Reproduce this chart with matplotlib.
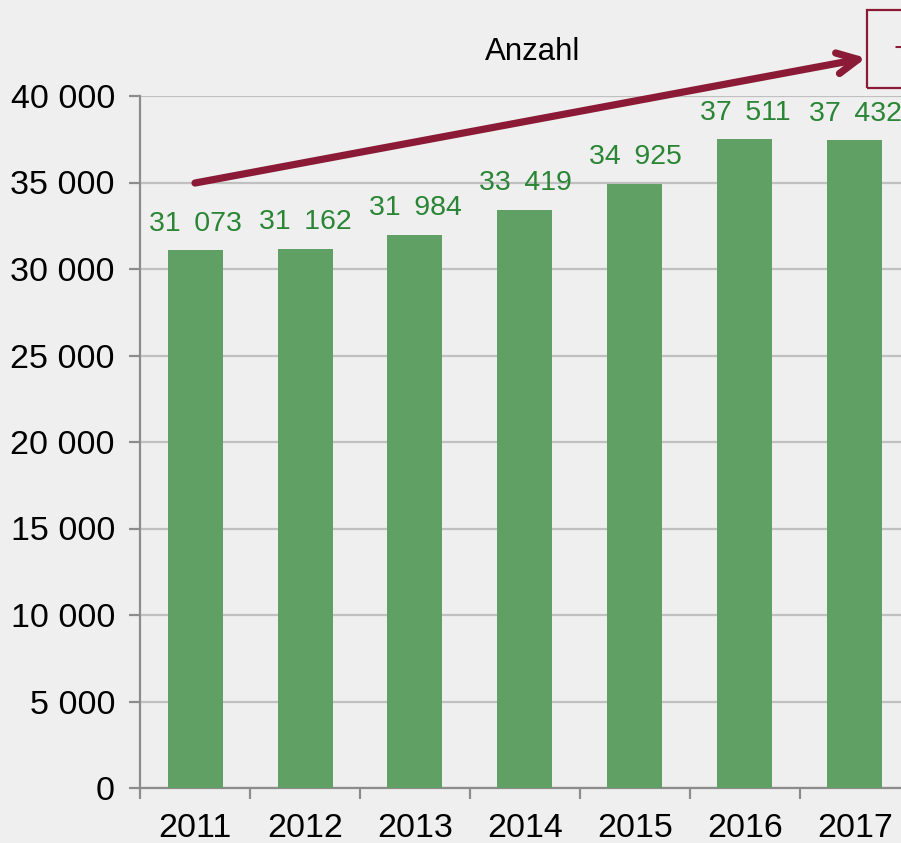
import numpy as np
import matplotlib.pyplot as plt
from matplotlib.patches import Rectangle

plt.rcParams['font.family'] = ['Liberation Sans', 'DejaVu Sans']

years = ['2011', '2012', '2013', '2014', '2015', '2016', '2017']
anzahl = [31073, 31162, 31984, 33419, 34925, 37511, 37432]

bg = '#eeefee'
bar_col = '#60a065'
lab_col = '#2a8535'
arrow_col = '#8b1a36'

fig = plt.figure(figsize=(9.01, 8.43), dpi=100, facecolor=bg)
ax = fig.add_axes([140 / 901, 1 - 788 / 843, 770 / 901, (788 - 96) / 843])
ax.set_facecolor(bg)

x = np.arange(len(years))
ax.bar(x, anzahl, width=0.5, color=bar_col, zorder=3)

for xi, v in zip(x, anzahl):
    s = f'{v:,}'.replace(',', ' \u2009')
    ax.text(xi, v + 780, s, ha='center', va='bottom', color=lab_col, fontsize=20.5)

ax.set_xlim(-0.5, len(years) - 0.5)
ax.set_ylim(0, 40000)
ax.set_yticks(np.arange(0, 40001, 5000))
ax.set_yticklabels([f'{t:,}'.replace(',', ' ') for t in range(0, 40001, 5000)], fontsize=24.5)
ax.yaxis.grid(True, color='#c0c0c0', lw=1.6, zorder=0)

ax.set_xticks(x)
ax.set_xticklabels(years, fontsize=24.5)
ax.set_xticks(np.arange(-0.5, len(years)), minor=True)
ax.tick_params(axis='x', which='major', length=0, pad=18)
ax.tick_params(axis='x', which='minor', length=8, width=1.6, color='#8c8c8c')
ax.tick_params(axis='y', length=8, width=1.6, color='#8c8c8c', pad=10)

for side in ['top', 'right']:
    ax.spines[side].set_visible(False)
for side in ['left', 'bottom']:
    ax.spines[side].set_color('#8c8c8c')
    ax.spines[side].set_linewidth(1.6)

# trend arrow and growth box
ax.annotate('', xy=(6.1, 42200), xytext=(0.0, 34970), xycoords='data',
            annotation_clip=False,
            arrowprops=dict(arrowstyle='->,head_length=1.5,head_width=0.75',
                            color=arrow_col, lw=5.2, capstyle='round',
                            joinstyle='round', shrinkA=0, shrinkB=0))

fig.patches.append(Rectangle((867 / 901, 1 - 88 / 843), 0.2, 78 / 843,
                             transform=fig.transFigure, fill=False,
                             edgecolor=arrow_col, lw=1.6))
fig.text(894 / 901, 1 - 50 / 843, '+20 %', color=arrow_col, fontsize=23,
         ha='left', va='center')

fig.text(533 / 901, 1 - 52 / 843, 'Anzahl', ha='center', va='center',
         fontsize=22.5, color='black')

fig.savefig('out.png', dpi=100, facecolor=bg)
